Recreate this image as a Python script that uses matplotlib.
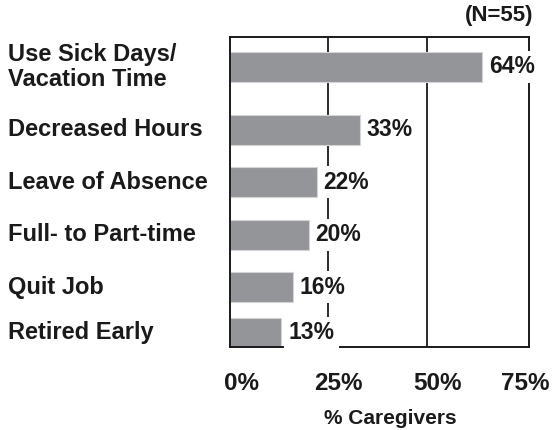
import numpy as np
import matplotlib
matplotlib.use("Agg")
import matplotlib.pyplot as plt
import matplotlib.transforms as mtransforms

plt.rcParams['font.family'] = ['Liberation Sans', 'DejaVu Sans']
plt.rcParams['font.weight'] = 'bold'

# data
categories = ["Use Sick Days/\nVacation Time", "Decreased Hours", "Leave of Absence",
              "Full- to Part-time", "Quit Job", "Retired Early"]
values = [64, 33, 22, 20, 16, 13]
value_labels = ["64%", "33%", "22%", "20%", "16%", "13%"]
xticks = [0, 25, 50, 75]
xtick_labels = ["0%", "25%", "50%", "75%"]

# layout: row positions (first row sits a bit higher, last row is squeezed)
rows = np.array([0, 1.2, 2.2, 3.2, 4.2, 5.07])

fig = plt.figure(figsize=(5.56, 4.30), dpi=100)
ax = fig.add_axes([0.4137, 0.193, 0.5377, 0.721])

# gridlines under the bars
for g in [25, 50]:
    ax.axvline(g, color="#1a1a1a", lw=1.3, zorder=0)

ax.barh(rows, values, height=0.57, color="#939598", edgecolor="#d4d4d4", lw=0.8, zorder=2)

ax.set_xlim(0, 76)
ax.set_ylim(rows[-1] + 0.267, -0.571)

for sp in ax.spines.values():
    sp.set_linewidth(1.4)
    sp.set_color("#1a1a1a")
    sp.set_zorder(3)

# value labels with white boxes (they break the 25% line)
for yi, v, lab in zip(rows, values, value_labels):
    ax.annotate(lab, (v, yi), xytext=(5, 0), textcoords="offset points",
                ha="left", va="center", fontsize=16.5, fontweight="bold", color="#1a1a1a",
                bbox=dict(boxstyle="square,pad=0.2", fc="white", ec="none"), zorder=4)

ax.set_yticks([])
ax.set_xticks(xticks)
ax.set_xticklabels(xtick_labels, fontsize=17.5, fontweight="bold", color="#1a1a1a")
ax.tick_params(axis="x", length=0, pad=18)
# tick labels sit a little right of their ticks in the original
for t, dx in zip(ax.get_xticklabels(), [11, 10, 11, 0]):
    t.set_transform(t.get_transform() + mtransforms.ScaledTranslation(dx / 100, 0, fig.dpi_scale_trans))

# category labels, left-aligned at the figure edge
trans = mtransforms.blended_transform_factory(fig.transFigure, ax.transData)
for yi, cat in zip(rows, categories):
    ax.text(8 / 556, yi, cat, transform=trans, ha="left", va="center",
            fontsize=17, fontweight="bold", color="#1a1a1a", linespacing=1.1)

fig.text(390 / 556, 1 - 419 / 430, "% Caregivers", ha="center", va="center",
         fontsize=15, fontweight="bold", color="#1a1a1a")
fig.text(533 / 556, 1 - 15 / 430, "(N=55)", ha="right", va="center",
         fontsize=16, fontweight="bold", color="#1a1a1a")

fig.savefig("out.png", dpi=100)
